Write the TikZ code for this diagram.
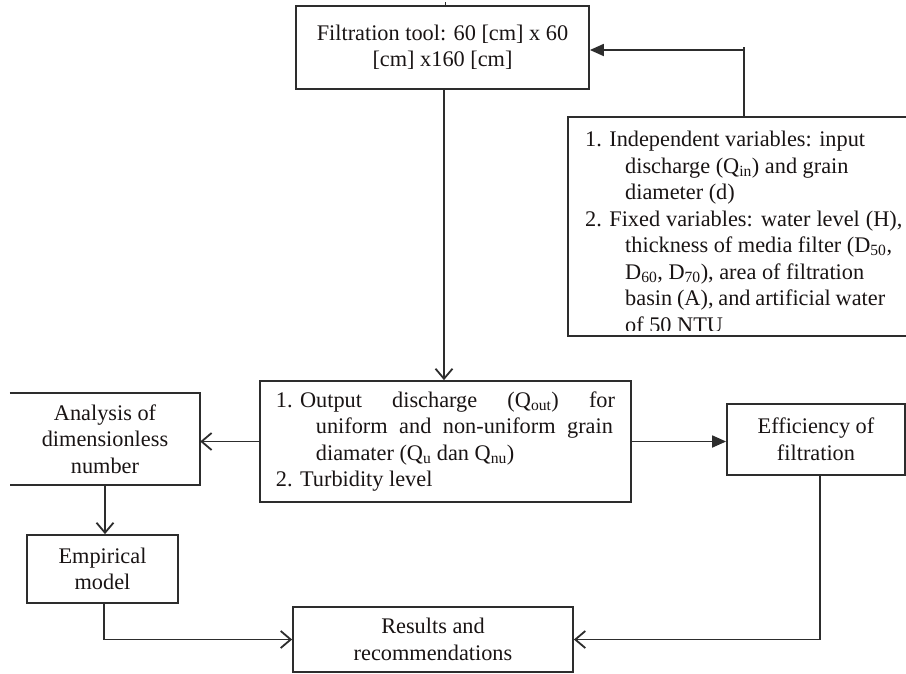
\documentclass[tikz,border=0pt]{standalone}
\usepackage{fontspec}
\setmainfont{Liberation Serif}
\usetikzlibrary{arrows.meta}
\definecolor{linecol}{RGB}{45,45,45}
\definecolor{txtcol}{RGB}{25,20,20}
\newcommand\fsz{\fontsize{22.3}{26.5}\selectfont}
\tikzset{
  boxnode/.style={draw=linecol, line width=1.8pt, font=\fsz, text=txtcol, align=center, inner sep=0pt},
  plain/.style={font=\fsz, text=txtcol, inner sep=0pt},
  ln/.style={draw=linecol, line width=1.8pt},
  tri/.style={-{Triangle[length=14pt,width=12pt]}},
  barb/.style={-{Straight Barb[length=10pt,width=17pt]}}
}
\begin{document}
\begin{tikzpicture}[x=1pt,y=-1pt]
\useasboundingbox (0,0) rectangle (906,673);
\clip (0,0) rectangle (906,673);
\fill[white] (0,0) rectangle (906,673);

% boxes
\node[boxnode, minimum width=293pt, minimum height=83pt] (top) at (442.5,47.5)
  {Filtration tool: 60 [cm] x 60\\{}[cm] x160 [cm]};

\node[boxnode, anchor=north west, minimum width=350pt, minimum height=219pt] (ind) at (567,116) {};
\begin{scope}
\clip (567,116) rectangle (906,330);
\node[plain, anchor=north west, align=left] (indtxt) at (585,131)
  {1. Independent variables: input\\
   \hspace*{40pt}discharge (Q\textsubscript{in}) and grain\\
   \hspace*{40pt}diameter (d)\\
   2. \makebox[293pt][s]{Fixed variables: water level (H),}\\
   \hspace*{40pt}thickness of media filter (D\textsubscript{50},\\
   \hspace*{40pt}D\textsubscript{60}, D\textsubscript{70}), area of filtration\\
   \hspace*{40pt}\makebox[260pt][s]{basin (A), and artificial water}\\
   \hspace*{40pt}of 50 NTU};
\end{scope}

\node[boxnode, align=left, minimum width=371pt, minimum height=121pt] (mid) at (445.5,441.5)
  {1. \makebox[315pt][s]{Output discharge (Q\textsubscript{out}) for}\\
   \hspace*{40pt}\makebox[297pt][s]{uniform and non-uniform grain}\\
   \hspace*{40pt}diamater (Q\textsubscript{u} dan Q\textsubscript{nu})\\
   2. Turbidity level};

\node[plain, align=center, minimum width=190pt, minimum height=92pt] (an) at (105,439)
  {Analysis of\\dimensionless\\number};
\draw[ln] (an.north west) -- (an.north east) -- (an.south east) -- (an.south west);

\node[boxnode, minimum width=151pt, minimum height=68pt] (emp) at (102.5,569)
  {Empirical\\model};

\node[boxnode, minimum width=280pt, minimum height=65pt] (res) at (433,639.5)
  {Results and\\recommendations};

\node[boxnode, minimum width=178pt, minimum height=71pt] (eff) at (816,439.5)
  {Efficiency of\\filtration};

% connectors
\draw[ln] ([xshift=3pt]top.north) -- ++(0,-3);
\draw[ln, tri] ([xshift=1pt]ind.north) |- ([yshift=-2.5pt]top.east);
\draw[ln] ([xshift=1pt]ind.north |- top.east) ++(0,2.5) -- ++(0,-3);
\draw[ln, barb] ([xshift=1.5pt]top.south) -- ([xshift=1.5pt]top.south |- mid.north);
\draw[ln, barb] (mid.west) -- (mid.west -| an.east);
\draw[ln, tri] (mid.east) -- (mid.east -| eff.west);
\draw[ln, barb] (an.south) -- (an.south |- emp.north);
\draw[ln, barb] ([xshift=1.5pt]emp.south) |- (res.west);
\draw[ln, barb] ([xshift=4pt]eff.south) |- (res.east);
\end{tikzpicture}
\end{document}
